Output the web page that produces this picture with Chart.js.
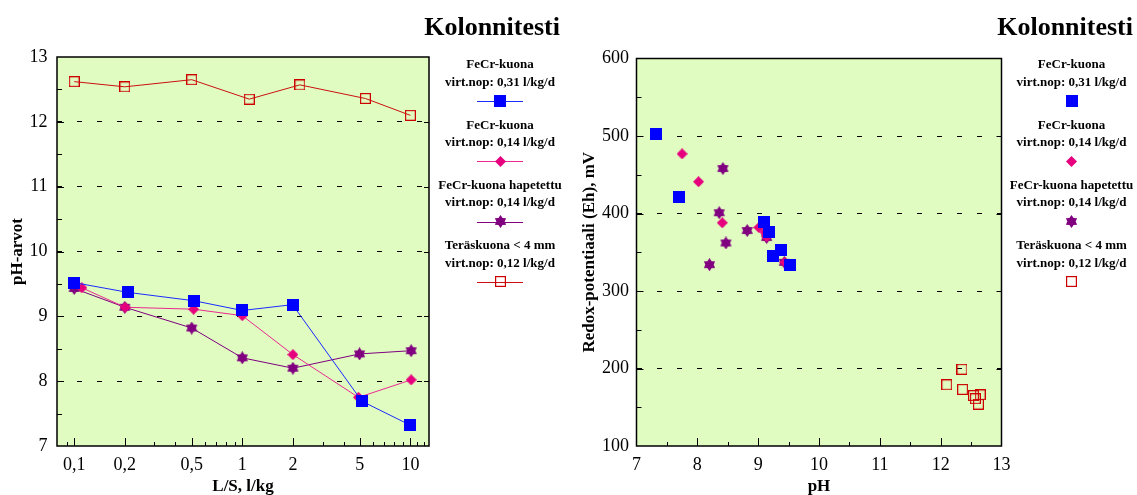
<!DOCTYPE html>
<html>
<head>
<meta charset="utf-8">
<script src="https://cdn.jsdelivr.net/npm/chart.js@4.4.1/dist/chart.umd.min.js"></script>
<style>
  html, body { margin: 0; padding: 0; background: #ffffff; }
  #wrap { position: relative; width: 1137px; height: 495px; overflow: hidden; }
  canvas { position: absolute; top: 0; }
</style>
</head>
<body>
<div id="wrap">
  <canvas id="phChart" width="570" height="495" style="left:0px"></canvas>
  <canvas id="redoxChart" width="567" height="495" style="left:570px"></canvas>
</div>
<script>
// ---- pH as a function of L/S (column leaching test) ----
const lsFeCr031 = [0.1, 0.208, 0.517, 1.0, 1.99, 5.15, 10];
const phFeCr031 = [9.52, 9.37, 9.24, 9.09, 9.18, 7.69, 7.32];

const lsFeCr014 = [0.111, 0.201, 0.513, 1.0, 2.0, 4.91, 10.1];
const phFeCr014 = [9.44, 9.14, 9.11, 9.01, 8.41, 7.75, 8.02];

const lsFeCrHap = [0.1, 0.2, 0.5, 1.0, 2.0, 4.98, 10.1];
const phFeCrHap = [9.43, 9.14, 8.82, 8.36, 8.20, 8.42, 8.47];

const lsTeras = [0.1, 0.2, 0.5, 1.1, 2.2, 5.4, 10];
const phTeras = [12.62, 12.54, 12.65, 12.35, 12.57, 12.36, 12.10];

const lsTickValues = [0.1, 0.2, 0.5, 1, 2, 5, 10];
const lsMinorTicks = [0.09, 0.3, 0.4, 0.6, 0.7, 0.8, 0.9, 3, 4, 6, 7, 8, 9, 11, 12];

// ---- Redox potential against pH ----
const rxPhFeCr031 = [7.32, 7.70, 9.09, 9.18, 9.37, 9.24, 9.52];
const rxEhFeCr031 = [502, 421, 389, 376, 353, 345, 333];

const rxPhFeCr014 = [7.75, 8.02, 8.41, 9.01, 9.11, 9.14, 9.44];
const rxEhFeCr014 = [477, 441, 388, 382, 376, 370, 337];

const rxPhFeCrHap = [8.42, 8.36, 8.47, 8.82, 9.14, 9.43, 8.20];
const rxEhFeCrHap = [458, 401, 362, 378, 369, 337, 334];

const rxPhTeras = [12.10, 12.35, 12.36, 12.54, 12.57, 12.62, 12.65];
const rxEhTeras = [179, 199, 173, 165, 161, 154, 166];

const seriesNames = [
  ['FeCr-kuona', 'virt.nop: 0,31 l/kg/d'],
  ['FeCr-kuona', 'virt.nop: 0,14 l/kg/d'],
  ['FeCr-kuona hapetettu', 'virt.nop: 0,14 l/kg/d'],
  ['Teräskuona < 4 mm', 'virt.nop: 0,12 l/kg/d']
];

const SERIF = '"Liberation Serif", "Times New Roman", "DejaVu Serif", serif';
const PLOT_BG = '#e0fcc1';
const COLORS = {
  blue: '#0000ff', blueLine: '#1a2cff',
  pink: '#e6007e', pinkLine: '#ea2a90',
  purple: '#800080', purpleLine: '#800080',
  red: '#cc0000', redLine: '#cc1010'
};

// ---- marker sprites ----
function makeCanvas(size) {
  const c = document.createElement('canvas');
  c.width = size; c.height = size;
  return c;
}
function squareMarker(color, size) {
  const c = makeCanvas(size), g = c.getContext('2d');
  g.fillStyle = color; g.fillRect(0, 0, size, size);
  return c;
}
function openSquareMarker(color, size) {
  const c = makeCanvas(size), g = c.getContext('2d');
  g.strokeStyle = color; g.lineWidth = 1.2;
  g.strokeRect(0.6, 0.6, size - 1.2, size - 1.2);
  return c;
}
function diamondMarker(color, size) {
  const c = makeCanvas(size), g = c.getContext('2d'), r = size / 2;
  g.fillStyle = color; g.beginPath();
  g.moveTo(r, 0); g.lineTo(size, r); g.lineTo(r, size); g.lineTo(0, r);
  g.closePath(); g.fill();
  return c;
}
function starMarker(color, size) {
  const c = makeCanvas(size), g = c.getContext('2d'), r = size / 2;
  g.fillStyle = color; g.beginPath();
  for (let k = 0; k < 12; k++) {
    const a = -Math.PI / 2 + k * Math.PI / 6;
    const rr = k % 2 === 0 ? r : r * 0.64;
    g.lineTo(r + rr * Math.cos(a), r + rr * Math.sin(a));
  }
  g.closePath(); g.fill();
  return c;
}
const markers = [
  squareMarker(COLORS.blue, 12),
  diamondMarker(COLORS.pink, 11),
  starMarker(COLORS.purple, 13),
  openSquareMarker(COLORS.red, 11)
];
const lineColors = [COLORS.blueLine, COLORS.pinkLine, COLORS.purpleLine, COLORS.redLine];

function pairs(xs, ys) { return xs.map((x, i) => ({ x: x, y: ys[i] })); }
const fmtComma = v => String(v).replace('.', ',');

// ---- decoration plugin: background, frame, inward ticks, heading and legend ----
function decorPlugin(cfg) {
  return {
    id: 'decor',
    beforeDraw(chart) {
      const a = chart.chartArea, ctx = chart.ctx;
      ctx.save();
      ctx.fillStyle = PLOT_BG;
      ctx.fillRect(a.left, a.top, a.right - a.left, a.bottom - a.top);
      ctx.restore();
    },
    afterDraw(chart) {
      const a = chart.chartArea, ctx = chart.ctx;
      const xs = chart.scales.x, ys = chart.scales.y;
      ctx.save();
      ctx.strokeStyle = '#000'; ctx.lineWidth = 1;
      ctx.beginPath();
      const tick = (x1, y1, x2, y2) => { ctx.moveTo(x1, y1); ctx.lineTo(x2, y2); };
      cfg.xMajor.forEach(v => { const p = Math.round(xs.getPixelForValue(v)) + 0.5; tick(p, a.bottom, p, a.bottom - 8); });
      cfg.xMinor.forEach(v => { const p = Math.round(xs.getPixelForValue(v)) + 0.5; tick(p, a.bottom, p, a.bottom - 4); });
      cfg.yMajor.forEach(v => { const p = Math.round(ys.getPixelForValue(v)) + 0.5; tick(a.left, p, a.left + 7, p); });
      cfg.yMinor.forEach(v => { const p = Math.round(ys.getPixelForValue(v)) + 0.5; tick(a.left, p, a.left + 5, p); });
      cfg.yRight.forEach(v => { const p = Math.round(ys.getPixelForValue(v)) + 0.5; tick(a.right, p, a.right - 5, p); });
      ctx.stroke();
      ctx.lineWidth = 1.5;
      ctx.strokeRect(a.left, a.top, a.right - a.left, a.bottom - a.top);

      // heading
      ctx.fillStyle = '#000';
      ctx.font = 'bold 26px ' + SERIF;
      ctx.textAlign = 'right'; ctx.textBaseline = 'alphabetic';
      ctx.fillText(cfg.heading, cfg.headingRight, 35);

      // legend
      ctx.font = 'bold 13px ' + SERIF;
      ctx.textAlign = 'center'; ctx.textBaseline = 'middle';
      seriesNames.forEach((lines, i) => {
        const y0 = 65 + i * 60.3;
        ctx.fillStyle = '#000';
        ctx.fillText(lines[0], cfg.legendX, y0);
        ctx.fillText(lines[1], cfg.legendX, y0 + 17.5);
        const my = y0 + 36;
        if (cfg.legendLines) {
          ctx.strokeStyle = lineColors[i]; ctx.lineWidth = 1.2;
          ctx.beginPath();
          ctx.moveTo(cfg.legendX - 23, Math.round(my) + 0.5);
          ctx.lineTo(cfg.legendX + 23, Math.round(my) + 0.5);
          ctx.stroke();
        }
        const m = markers[i];
        ctx.drawImage(m, Math.round(cfg.legendX - m.width / 2), Math.round(my - m.height / 2));
      });
      ctx.restore();
    }
  };
}

function gridColor(lo, hi) {
  return ctx => (ctx.tick && (ctx.tick.value === lo || ctx.tick.value === hi)) ? 'rgba(0,0,0,0)' : '#000';
}
const tickFont = { family: SERIF, size: 18 };
const titleFont = { family: SERIF, size: 17, weight: 'bold', lineHeight: 1 };

// ---- left chart: pH vs L/S ----
new Chart(document.getElementById('phChart'), {
  type: 'line',
  data: {
    datasets: [
      { data: pairs(lsFeCr031, phFeCr031), borderColor: COLORS.blueLine, pointStyle: markers[0] },
      { data: pairs(lsFeCr014, phFeCr014), borderColor: COLORS.pinkLine, pointStyle: markers[1] },
      { data: pairs(lsFeCrHap, phFeCrHap), borderColor: COLORS.purpleLine, pointStyle: markers[2] },
      { data: pairs(lsTeras, phTeras), borderColor: COLORS.redLine, pointStyle: markers[3] }
    ].map(d => Object.assign(d, { borderWidth: 1, tension: 0, fill: false, pointRadius: 6 }))
  },
  options: {
    responsive: false, animation: false, devicePixelRatio: 1,
    layout: { padding: { left: 0, top: 57, right: 141, bottom: 0 } },
    plugins: { legend: { display: false }, tooltip: { enabled: false }, title: { display: false } },
    scales: {
      x: {
        type: 'logarithmic', min: 0.079, max: 12.9,
        afterBuildTicks(s) { s.ticks = lsTickValues.map(v => ({ value: v })); },
        afterFit(s) { s.height = 49; },
        grid: { display: false, drawTicks: false },
        border: { display: false },
        ticks: { autoSkip: false, maxRotation: 0, padding: 8, color: '#000', font: tickFont, callback: v => fmtComma(v) },
        title: { display: true, text: 'L/S, l/kg', color: '#000', font: titleFont, padding: { top: 0, bottom: 0 } }
      },
      y: {
        type: 'linear', min: 7, max: 13,
        afterFit(s) { s.width = 57; },
        grid: { color: gridColor(7, 13), lineWidth: 1, drawTicks: false },
        border: { display: false, dash: [5, 15] },
        ticks: { stepSize: 1, padding: 9.5, color: '#000', font: tickFont },
        title: { display: true, text: 'pH-arvot', color: '#000', font: titleFont, padding: { top: 9.5, bottom: 0 } }
      }
    }
  },
  plugins: [decorPlugin({
    heading: 'Kolonnitesti', headingRight: 560, legendX: 500, legendLines: true,
    xMajor: lsTickValues, xMinor: lsMinorTicks,
    yMajor: [8, 9, 10, 11, 12], yMinor: [7.5, 8.5, 9.5, 10.5, 11.5, 12.5],
    yRight: [8, 9, 10, 11, 12]
  })]
});

// ---- right chart: redox potential vs pH ----
new Chart(document.getElementById('redoxChart'), {
  type: 'scatter',
  data: {
    datasets: [
      { data: pairs(rxPhFeCr031, rxEhFeCr031), pointStyle: markers[0] },
      { data: pairs(rxPhFeCr014, rxEhFeCr014), pointStyle: markers[1] },
      { data: pairs(rxPhFeCrHap, rxEhFeCrHap), pointStyle: markers[2] },
      { data: pairs(rxPhTeras, rxEhTeras), pointStyle: markers[3] }
    ].map(d => Object.assign(d, { showLine: false, pointRadius: 6 }))
  },
  options: {
    responsive: false, animation: false, devicePixelRatio: 1,
    layout: { padding: { left: 0, top: 58.5, right: 135.5, bottom: 0 } },
    plugins: { legend: { display: false }, tooltip: { enabled: false }, title: { display: false } },
    scales: {
      x: {
        type: 'linear', min: 7, max: 13,
        afterFit(s) { s.height = 49; },
        grid: { display: false, drawTicks: false },
        border: { display: false },
        ticks: { stepSize: 1, autoSkip: false, maxRotation: 0, padding: 8, color: '#000', font: tickFont },
        title: { display: true, text: 'pH', color: '#000', font: titleFont, padding: { top: 0, bottom: 0 } }
      },
      y: {
        type: 'linear', min: 100, max: 600,
        afterFit(s) { s.width = 66.5; },
        grid: { color: gridColor(100, 600), lineWidth: 1, drawTicks: false },
        border: { display: false, dash: [5, 15] },
        ticks: { stepSize: 100, padding: 7.5, color: '#000', font: tickFont },
        title: { display: true, text: 'Redox-potentiaali (Eh), mV', color: '#000', font: titleFont, padding: { top: 11.5, bottom: 0 } }
      }
    }
  },
  plugins: [decorPlugin({
    heading: 'Kolonnitesti', headingRight: 563, legendX: 501.5, legendLines: false,
    xMajor: [8, 9, 10, 11, 12], xMinor: [7.5, 8.5, 9.5, 10.5, 11.5, 12.5],
    yMajor: [200, 300, 400, 500], yMinor: [150, 250, 350, 450, 550],
    yRight: [200, 300, 400, 500]
  })]
});
</script>
</body>
</html>
